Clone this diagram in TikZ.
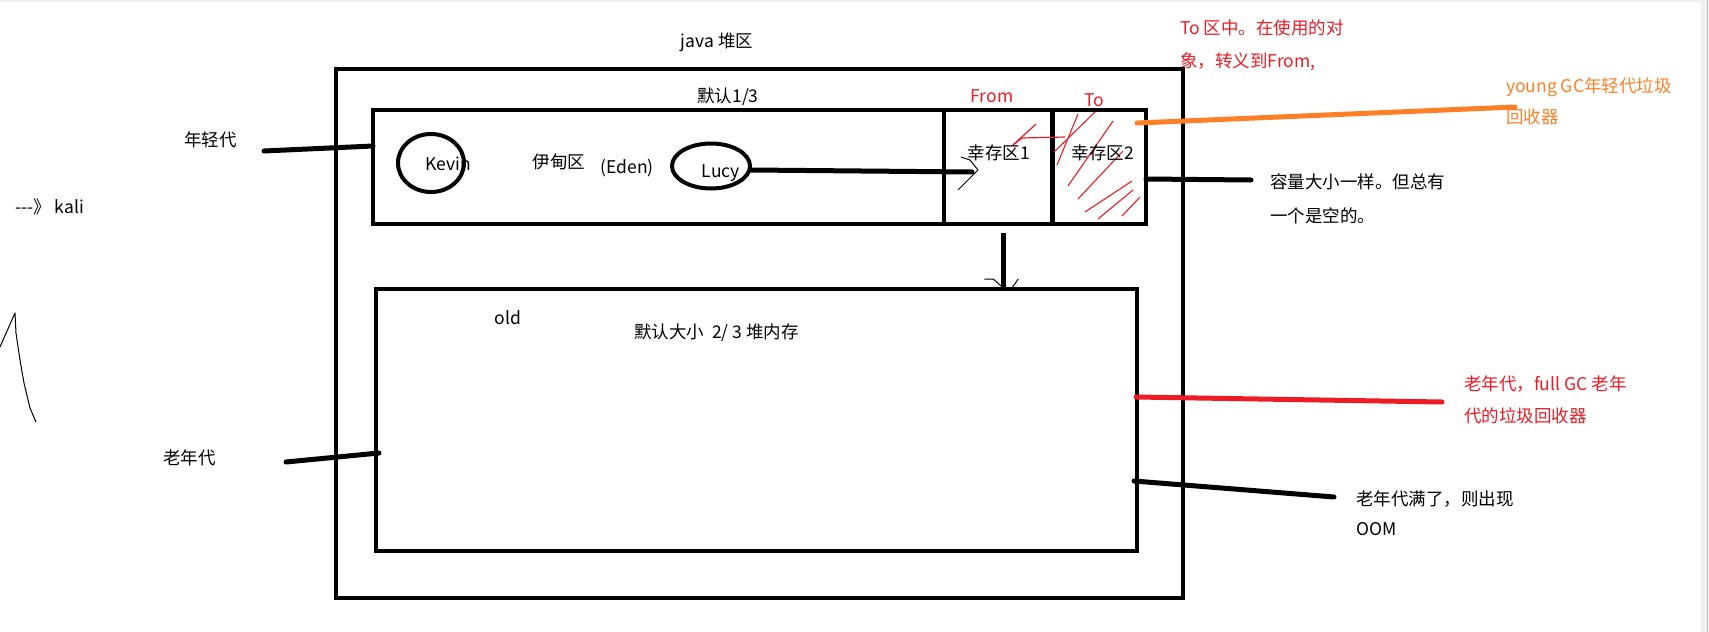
\documentclass[tikz,border=0pt]{standalone}
\usepackage{fontspec}
\setmainfont{Noto Sans CJK SC}
\usetikzlibrary{shapes.geometric,calc}
\definecolor{pred}{HTML}{ED1C24}
\definecolor{porange}{HTML}{FF7F27}
\begin{document}
\begin{tikzpicture}[x=1pt,y=-1pt,
 region/.style={draw, line width=4.5pt, rectangle, inner sep=0pt, outer sep=0pt},
 blob/.style={draw, ellipse, line width=4pt, inner sep=0pt, outer sep=0pt},
 conn/.style={line width=5pt, line cap=round},
 sketch/.style={line width=1pt, line join=round},
 hatch/.style={pred, line width=1.1pt},
 txt/.style={font=\fontsize{17.5}{33}\selectfont, inner sep=0pt, align=left},
]
\fill[white] (0,0) rectangle (1709,632);
\useasboundingbox (0,0) rectangle (1709,632);
% screenshot edges
\fill[gray!12] (0,0) rectangle (1701,2);
\fill[gray!12] (1701,0) rectangle (1709,632);
\draw[gray!50, line width=1pt] (1707,0) -- (1707,632);

% boxes
\node[region, minimum width=847pt, minimum height=529pt] (heap) at (759.5,333.5) {};
\node[region, minimum width=773pt, minimum height=114pt] (young) at (759.5,167) {};
\node[region, minimum width=108.5pt, minimum height=114pt] (s1) at (998.25,167) {};
\node[region, minimum width=93.5pt, minimum height=114pt] (s2) at (1099.25,167) {};
\node[region, minimum width=761pt, minimum height=262pt] (old) at (756.5,420) {};
\node[blob, minimum width=66pt, minimum height=58pt] (kevin) at (431,163) {};
\node[blob, minimum width=78pt, minimum height=45pt] (lucy) at (711,166) {};

% hatching of survivor 2
\draw[hatch] (1078,114) -- (1057,165);
\draw[hatch] (1095,112) -- (1054,152);
\draw[hatch] (1113,121) -- (1068,186);
\draw[hatch] (1123,151) -- (1078,199);
\draw[hatch] (1132,181) -- (1085,212);
\draw[hatch] (1133,190) -- (1098,219);
\draw[hatch] (1140,197) -- (1122,216);
% red arrow To -> From
\draw[pred, line width=1.2pt, line join=round] (1065,137) -- (1022,138) -- (1013,145);
\draw[pred, line width=1.2pt] (1036,124) -- (1013,145);

% texts
\node[txt] (tjava) at (717,42) {java 堆区};
\node[txt] (tdef) at (728,97) {默认1/3};
\node[txt, text=pred] (tfrom) at (992,96) {From};
\node[txt, text=pred] (tto) at (1094,100) {To};
\node[txt] (ts1) at (999,153) {幸存区1};
\node[txt] (ts2) at (1103,153) {幸存区2};
\node[txt] (tkevin) at (448,164) {Kevin};
\node[txt] (teden) at (559,162) {伊甸区};
\node[txt] (tedenen) at (627,168) {(Eden)};
\node[txt] (tlucy) at (721,173) {Lucy};
\node[txt, anchor=west] (tyoung) at (184,140) {年轻代};
\node[txt, anchor=west] (tkali) at (15,207) {-{}-{}-》 kali};
\node[txt] (told) at (508,318) {old};
\node[txt, anchor=west] (toldsize) at (634,333) {默认大小\ \ 2/ 3 堆内存};
\node[txt, anchor=west] (toldgen) at (163,458) {老年代};
\node[txt, anchor=north west, text=pred] (tnote) at (1180,20) {To 区中。在使用的对\\象，转义到From,};
\node[txt, anchor=north west, text=porange, font=\fontsize{17.5}{31}\selectfont] (tygc) at (1506,77) {young GC年轻代垃圾\\回收器};
\node[txt, anchor=north west, font=\fontsize{17.5}{34}\selectfont] (tcap) at (1270,173) {容量大小一样。但总有\\一个是空的。};
\node[txt, anchor=north west, text=pred, font=\fontsize{17.5}{32}\selectfont] (tfgc) at (1464,376) {老年代，full GC 老年\\代的垃圾回收器};
\node[txt, anchor=north west, font=\fontsize{17.5}{30}\selectfont] (toom) at (1356,491) {老年代满了，则出现\\OOM};

% connectors
\coordinate (yA) at (264,151);
\draw[conn] (yA) -- ($(young.west)+(0,-21)$);
\coordinate (tip) at ($(s1.west)+(28,5)$);
\draw[conn] ($(lucy.east)+(1,4)$) -- (tip);
\draw[sketch] ($(tip)+(-11,-15)$) -- ($(tip)+(-2,-12)$) -- ($(tip)+(6,-2)$) -- ($(tip)+(-14,18)$);
\coordinate (capA) at (1251,180);
\draw[conn] ($(young.east)+(0,12)$) -- (capA);
\coordinate (yoA) at (1515,107);
\draw[conn, porange] ($(young.north east)+(-9,13)$) -- (yoA);
\coordinate (dn) at ($(s1.south)+(5,9)$);
\coordinate (dnE) at (dn |- old.north);
\draw[line width=4.5pt] (dn) -- (dnE);
\draw[sketch] ($(dnE)+(-19,-10)$) -- ($(dnE)+(-10,-10)$) -- ($(dnE)+(-1,-2)$);
\draw[sketch] ($(dnE)+(15,-10)$) -- ($(dnE)+(8,0)$);
\coordinate (oA) at (286,462);
\draw[conn] (oA) -- ($(old.west)+(3,33)$);
\coordinate (rA) at (1442,402);
\draw[conn, pred] ($(old.east)+(-1,-23)$) -- (rA);
\coordinate (oomA) at (1334,497);
\draw[conn] ($(old.east)+(-3,61)$) -- (oomA);
% left sketch stroke
\draw[sketch] (0,347) -- (15,313) -- (16,333) -- (20,360) -- (24,383) -- (30,408) -- (36,422);
\end{tikzpicture}
\end{document}
